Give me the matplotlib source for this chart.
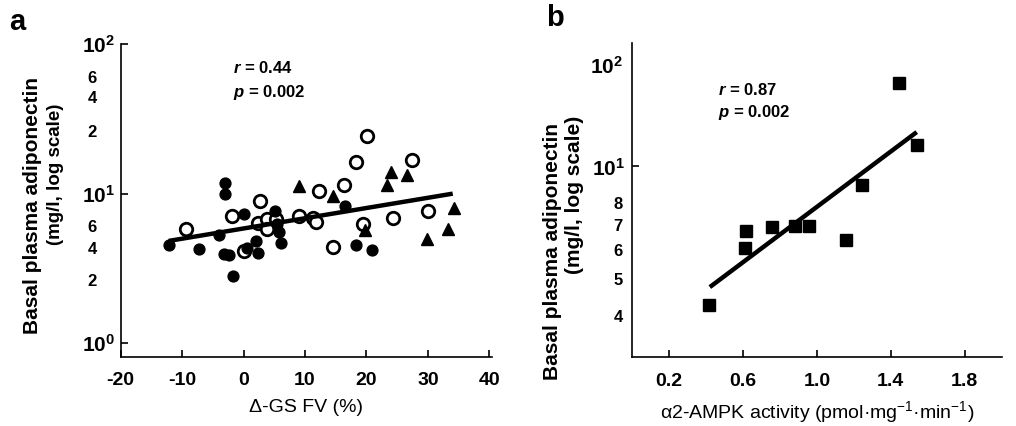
import matplotlib
matplotlib.use("Agg")
import matplotlib.pyplot as plt
from matplotlib.ticker import FixedLocator, FixedFormatter

plt.rcParams['font.family'] = ['Liberation Sans', 'DejaVu Sans']
plt.rcParams['mathtext.fontset'] = 'custom'
plt.rcParams['mathtext.rm'] = 'Liberation Sans'
plt.rcParams['mathtext.bf'] = 'Liberation Sans:bold'
plt.rcParams['mathtext.it'] = 'Liberation Sans:italic:bold'

# panel a: delta GS FV (%) vs adiponectin (mg/l)
filled_x = [-12.2, -7.3, -3.95, -3.1, -3.1, -3.25, -2.3, -1.8, 0.15, 0.55,
            2.05, 2.4, 5.15, 5.45, 5.7, 6.1, 16.5, 18.3, 20.9]
filled_y = [4.52, 4.25, 5.27, 11.8, 9.9, 3.94, 3.90, 2.81, 7.36, 4.30,
            4.83, 4.04, 7.62, 6.31, 5.55, 4.69, 8.27, 4.52, 4.23]
open_x = [-9.3, -1.9, 0.1, 2.6, 2.35, 3.8, 3.8, 5.3, 9.05, 11.3,
          11.8, 12.2, 14.6, 16.4, 18.3, 20.1, 19.5, 24.4, 27.5, 30.1]
open_y = [5.78, 7.13, 4.14, 8.89, 6.41, 6.81, 5.84, 6.77, 7.09, 6.88,
          6.47, 10.4, 4.37, 11.5, 16.2, 24.2, 6.31, 6.88, 16.9, 7.62]
tri_x = [9.1, 14.5, 23.4, 24.0, 26.6, 34.3, 19.8, 29.8, 33.2]
tri_y = [11.2, 9.64, 11.4, 13.9, 13.4, 8.07, 5.69, 5.01, 5.78]
fit_a_x = [-12.2, 34.05]
fit_a_y = [4.83, 10.0]

# panel b: a2-AMPK activity vs adiponectin
sq_x = [0.415, 0.616, 0.612, 0.758, 0.881, 0.957, 1.158, 1.243, 1.443, 1.541]
sq_y = [4.26, 6.74, 6.06, 6.89, 6.95, 6.95, 6.38, 8.94, 16.7, 11.4]
fit_b_x = [0.42, 1.54]
fit_b_y = [4.77, 12.35]

xticks_a = [-20, -10, 0, 10, 20, 30, 40]
xticks_b = [0.2, 0.6, 1.0, 1.4, 1.8]
ylab_a_major = ['$\\mathbf{10^{0}}$', '$\\mathbf{10^{1}}$', '$\\mathbf{10^{2}}$']
ylab_a_minor = ['2', '4', '6', '2', '4', '6']
ylab_b_minor = ['4', '5', '6', '7', '8']

fig = plt.figure(figsize=(10.16, 4.26), dpi=100)
axa = fig.add_axes([0.1188, 0.162, 0.3652, 0.7347])
axb = fig.add_axes([0.6223, 0.1613, 0.3636, 0.7371])

axa.plot(open_x, open_y, 'o', ms=9, mfc='white', mec='black', mew=2, ls='none', zorder=3)
axa.plot(filled_x, filled_y, 'o', ms=7.8, color='black', ls='none', zorder=4)
axa.plot(tri_x, tri_y, '^', ms=8, color='black', ls='none', zorder=4)
axa.plot(fit_a_x, fit_a_y, color='black', lw=3.2, solid_capstyle='butt', zorder=5)

axb.plot(sq_x, sq_y, 's', ms=8.5, color='black', ls='none', zorder=4)
axb.plot(fit_b_x, fit_b_y, color='black', lw=3.2, solid_capstyle='butt', zorder=5)

for ax in (axa, axb):
    ax.set_yscale('log')
    for s in ('top', 'right'):
        ax.spines[s].set_visible(False)
    for s in ('left', 'bottom'):
        ax.spines[s].set_linewidth(1.2)
    ax.tick_params(which='major', direction='in', length=5, width=1.2)

# panel a axes
axa.set_xlim(-20, 40.4)
axa.set_ylim(0.81, 100)
axa.set_xticks(xticks_a)
axa.set_xticklabels([str(v) for v in xticks_a])
axa.yaxis.set_major_locator(FixedLocator([1, 10, 100]))
axa.yaxis.set_major_formatter(FixedFormatter(ylab_a_major))
axa.yaxis.set_minor_locator(FixedLocator([2.64, 4.32, 6.05, 26.4, 44.1, 59.9]))
axa.yaxis.set_minor_formatter(FixedFormatter(ylab_a_minor))
axa.tick_params(axis='y', which='major', pad=4, labelsize=15)
axa.tick_params(axis='y', which='minor', length=0, pad=17, labelsize=12)

# panel b axes
axb.set_xlim(0, 2.0)
axb.set_ylim(3.1, 21.3)
axb.set_xticks(xticks_b)
axb.set_xticklabels(['%.1f' % v for v in xticks_b])
axb.yaxis.set_major_locator(FixedLocator([10]))
axb.yaxis.set_major_formatter(FixedFormatter(['$\\mathbf{10^{1}}$']))
axb.yaxis.set_minor_locator(FixedLocator([4, 5, 6, 7, 8, 18.7]))
axb.yaxis.set_minor_formatter(FixedFormatter(ylab_b_minor + ['$\\mathbf{10^{2}}$']))
axb.tick_params(axis='y', which='major', pad=5, labelsize=15)
axb.tick_params(axis='y', which='minor', length=0, pad=7, labelsize=12)

for ax in (axa, axb):
    ax.tick_params(axis='x', pad=11)
    for lab in ax.get_xticklabels():
        lab.set_weight('bold')
        lab.set_size(14)
    for lab in ax.get_yticklabels() + ax.get_yticklabels(minor=True):
        lab.set_weight('bold')
axb.get_yticklabels(minor=True)[-1].set_size(15)

axa.set_xlabel('\u0394-GS FV (%)', fontsize=14, labelpad=7)
axb.set_xlabel('\u03b12-AMPK activity (pmol\u00b7mg$^{-1}$\u00b7min$^{-1}$)',
               fontsize=14, labelpad=7)

ylkw = dict(rotation=90, ha='center', va='center', fontweight='bold')
fig.text(33 / 1016, 1 - 206 / 426, 'Basal plasma adiponectin', fontsize=15, **ylkw)
fig.text(55 / 1016, 1 - 174 / 426, '(mg/l, log scale)', fontsize=13.5, **ylkw)
fig.text(553 / 1016, 1 - 251 / 426, 'Basal plasma adiponectin', fontsize=15, **ylkw)
fig.text(575 / 1016, 1 - 195 / 426, '(mg/l, log scale)', fontsize=15, **ylkw)

fig.text(17 / 1016, 1 - 22 / 426, 'a', fontsize=21, fontweight='bold', ha='center', va='center')
fig.text(555 / 1016, 1 - 18 / 426, 'b', fontsize=21, fontweight='bold', ha='center', va='center')

stat = dict(fontsize=12, fontweight='bold', ha='left', va='center')
fig.text(233 / 1016, 1 - 68 / 426, '$\\mathit{r}$ = 0.44', **stat)
fig.text(233 / 1016, 1 - 92 / 426, '$\\mathit{p}$ = 0.002', **stat)
fig.text(718 / 1016, 1 - 90 / 426, '$\\mathit{r}$ = 0.87', **stat)
fig.text(718 / 1016, 1 - 113 / 426, '$\\mathit{p}$ = 0.002', **stat)

fig.savefig('out.png', dpi=100)
